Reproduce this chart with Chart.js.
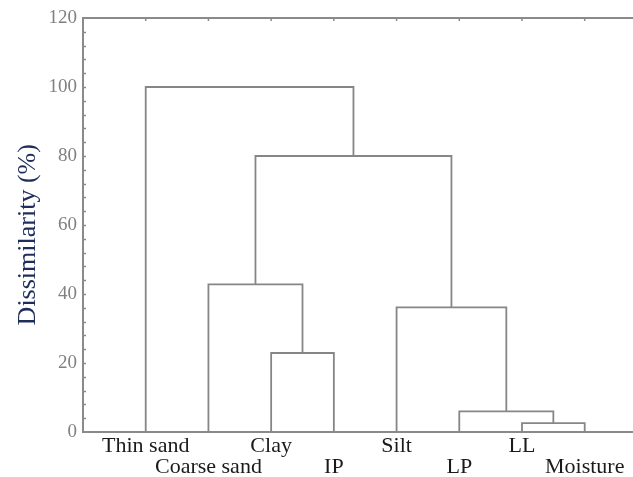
<!DOCTYPE html>
<html>
<head>
<meta charset="utf-8">
<script src="https://cdn.jsdelivr.net/npm/chart.js@4"></script>
<style>
  html, body { margin: 0; padding: 0; background: #fff; }
  #wrap { width: 633px; height: 477px; }
</style>
</head>
<body>
<div id="wrap"><canvas id="dendro"></canvas></div>
<script>
// leaves in dendrogram order
const leaves = ['Thin sand', 'Coarse sand', 'Clay', 'IP', 'Silt', 'LP', 'LL', 'Moisture'];

// merges: node index 8.. built in order (leaf ids 0-7, earlier merges 8+)
const linkLeft   = [6, 5, 2, 4, 1, 12, 0];
const linkRight  = [7, 8, 3, 9, 10, 11, 13];
const linkHeight = [2.6, 6.0, 22.9, 36.1, 42.8, 80, 100];

const yTicks = [0, 20, 40, 60, 80, 100, 120];

const LINE = '#868686';
const AXIS = '#8a8a8a';

// ------------------------------------------------------
// build bracket paths from the tree
// ------------------------------------------------------
const nodeX = leaves.map((_, i) => i + 1);
const nodeH = leaves.map(() => 0);
const datasets = [];

linkHeight.forEach((h, k) => {
  const a = linkLeft[k];
  const b = linkRight[k];
  datasets.push({
    data: [
      { x: nodeX[a], y: nodeH[a] },
      { x: nodeX[a], y: h },
      { x: nodeX[b], y: h },
      { x: nodeX[b], y: nodeH[b] },
    ],
    showLine: true,
    borderColor: LINE,
    borderWidth: 1.8,
    pointRadius: 0,
    fill: false,
  });
  nodeX.push((nodeX[a] + nodeX[b]) / 2);
  nodeH.push(h);
});

// top border + little inward ticks
const frameTicks = {
  id: 'frameTicks',
  afterDraw(chart) {
    const { ctx, chartArea: area, scales: { x, y } } = chart;
    ctx.save();
    ctx.strokeStyle = AXIS;
    ctx.lineWidth = 2;
    ctx.beginPath();
    ctx.moveTo(area.left - 1, area.top);
    ctx.lineTo(area.right, area.top);
    ctx.stroke();

    ctx.lineWidth = 1.5;
    ctx.beginPath();
    for (let v = 4; v < 120; v += 4) {
      const py = Math.round(y.getPixelForValue(v)) + 0.5;
      ctx.moveTo(area.left, py);
      ctx.lineTo(area.left + 3, py);
    }
    leaves.forEach((_, i) => {
      const px = x.getPixelForValue(i + 1);
      ctx.moveTo(px, area.top);
      ctx.lineTo(px, area.top + 3);
    });
    ctx.stroke();
    ctx.restore();
  },
};

new Chart(document.getElementById('dendro'), {
  type: 'scatter',
  data: { datasets },
  options: {
    responsive: true,
    maintainAspectRatio: false,
    animation: false,
    layout: { padding: { top: 18, right: 0, left: 0, bottom: 0 } },
    plugins: {
      legend: { display: false },
      tooltip: { enabled: false },
    },
    scales: {
      x: {
        type: 'linear',
        min: 0,
        max: 8.77,
        grid: { display: false, drawTicks: false, tickLength: 0 },
        border: { display: true, color: AXIS, width: 2 },
        afterBuildTicks: (scale) => {
          scale.ticks = leaves.map((_, i) => ({ value: i + 1 }));
        },
        afterFit: (scale) => { scale.height = 45; },
        ticks: {
          autoSkip: false,
          maxRotation: 0,
          padding: 4,
          color: '#1a1a1a',
          font: { family: 'Liberation Serif', size: 22, lineHeight: 0.95 },
          callback: (v) => {
            const i = Math.round(v) - 1;
            return i % 2 === 0 ? [leaves[i]] : ['', leaves[i]];
          },
        },
      },
      y: {
        min: 0,
        max: 120,
        afterBuildTicks: (scale) => {
          scale.ticks = yTicks.map((v) => ({ value: v }));
        },
        afterFit: (scale) => { scale.width = 83; },
        grid: { display: false, drawTicks: false, tickLength: 0 },
        border: { display: true, color: AXIS, width: 2 },
        ticks: {
          padding: 6,
          color: '#808080',
          font: { family: 'Liberation Serif', size: 19 },
        },
        title: {
          display: true,
          text: 'Dissimilarity (%)   ',
          color: '#1f2d5c',
          padding: { top: 13, bottom: 0 },
          font: { family: 'Liberation Serif', size: 26 },
        },
      },
    },
  },
  plugins: [frameTicks],
});
</script>
</body>
</html>
